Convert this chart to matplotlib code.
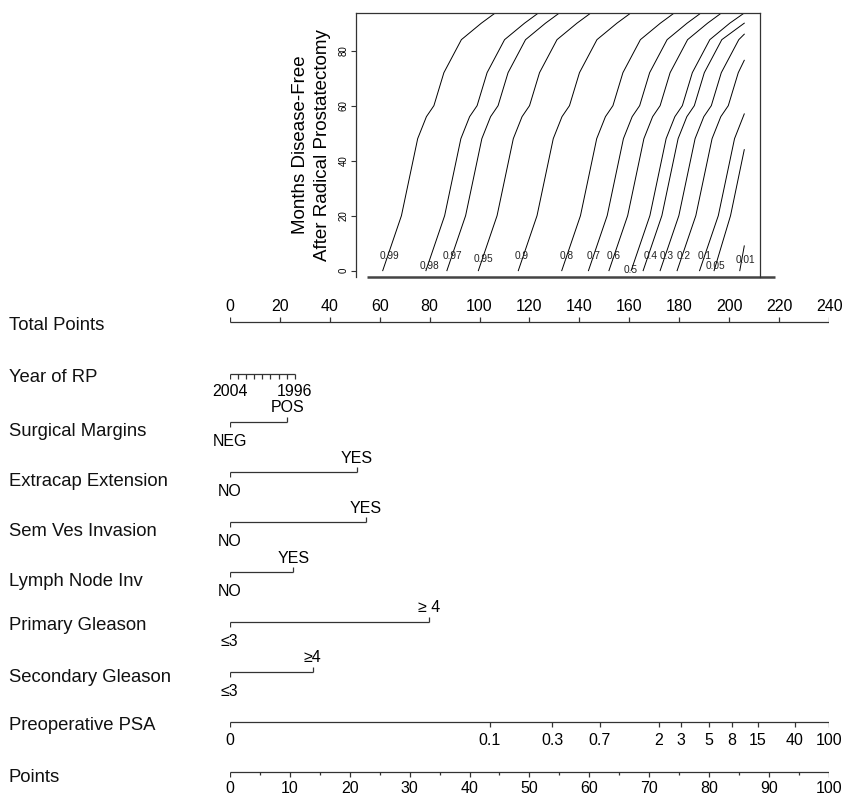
import matplotlib
matplotlib.use("Agg")
import matplotlib.pyplot as plt
import matplotlib.transforms as mtransforms

plt.rcParams['font.family'] = ['Liberation Sans', 'DejaVu Sans']

# --- survival contours: total points reached at each month, per probability
surv_labels = ['0.99', '0.98', '0.97', '0.95', '0.9', '0.8', '0.7', '0.6',
               '0.5', '0.4', '0.3', '0.2', '0.1', '0.05', '0.01']
curve_points = [
    [61.2, 68.7, 75.2, 78.7, 81.7, 85.7, 92.7, 100.7, 106.7],
    [78.5, 86.0, 92.5, 96.0, 99.0, 103.0, 110.0, 118.0, 124.0],
    [86.9, 94.4, 100.9, 104.4, 107.4, 111.4, 118.4, 126.4, 132.4],
    [99.5, 107.0, 113.5, 117.0, 120.0, 124.0, 131.0, 139.0, 145.0],
    [115.5, 123.0, 129.5, 133.0, 136.0, 140.0, 147.0, 155.0, 161.0],
    [132.9, 140.4, 146.9, 150.4, 153.4, 157.4, 164.4, 172.4, 178.4],
    [143.6, 151.1, 157.6, 161.1, 164.1, 168.1, 175.1, 183.1, 189.1],
    [151.8, 159.3, 165.8, 169.3, 172.3, 176.3, 183.3, 191.3, 197.3],
    [160.7, 168.2, 174.7, 178.2, 181.2, 185.2, 192.2, 200.2, 206.0],
    [165.5, 173.0, 179.5, 183.0, 186.0, 190.0, 197.0, 206.0],
    [172.3, 179.8, 186.3, 189.8, 192.8, 196.8, 203.8, 206.0],
    [179.1, 186.6, 193.1, 196.6, 199.6, 203.6, 206.0],
    [188.1, 195.6, 202.1, 206.0],
    [193.9, 200.5, 206.0],
    [204.2, 206.0],
]
curve_months = [
    [0, 20, 48, 56, 60, 72, 84, 90, 94],
    [0, 20, 48, 56, 60, 72, 84, 90, 94],
    [0, 20, 48, 56, 60, 72, 84, 90, 94],
    [0, 20, 48, 56, 60, 72, 84, 90, 94],
    [0, 20, 48, 56, 60, 72, 84, 90, 94],
    [0, 20, 48, 56, 60, 72, 84, 90, 94],
    [0, 20, 48, 56, 60, 72, 84, 90, 94],
    [0, 20, 48, 56, 60, 72, 84, 90, 94],
    [0, 20, 48, 56, 60, 72, 84, 90, 93.7],
    [0, 20, 48, 56, 60, 72, 84, 90],
    [0, 20, 48, 56, 60, 72, 84, 86],
    [0, 20, 48, 56, 60, 72, 76.5],
    [0, 20, 48, 57],
    [0, 20, 44],
    [0, 9],
]
label_points = [63.8, 79.8, 89.3, 101.5, 116.9, 134.9, 145.6, 153.6,
                160.3, 168.3, 175.0, 181.6, 190.3, 194.3, 206.4]
label_months = [5.5, 1.6, 5.5, 4.3, 5.5, 5.5, 5.5, 5.5,
                0.4, 5.5, 5.5, 5.5, 5.5, 1.6, 4.0]
month_ticks = [0, 20, 40, 60, 80]

# --- nomogram scales (positions on the 0-100 points scale)
total_ticks = [0, 20, 40, 60, 80, 100, 120, 140, 160, 180, 200, 220, 240]
year_values = [2004, 2003, 2002, 2001, 2000, 1999, 1998, 1997, 1996]
year_points = [0, 1.36, 2.71, 4.07, 5.42, 6.78, 8.14, 9.49, 10.85]
bin_names = ['Surgical Margins', 'Extracap Extension', 'Sem Ves Invasion',
             'Lymph Node Inv', 'Primary Gleason', 'Secondary Gleason']
bin_low = ['NEG', 'NO', 'NO', 'NO', '≤3', '≤3']
bin_high = ['POS', 'YES', 'YES', 'YES', '≥ 4', '≥4']
bin_points = [9.6, 21.2, 22.7, 10.6, 33.2, 13.8]
psa_labels = ['0', '0.1', '0.3', '0.7', '2', '3', '5', '8', '15', '40', '100']
psa_points = [0, 43.4, 53.8, 61.7, 71.6, 75.3, 80.0, 83.8, 88.1, 94.3, 100]
points_major = [0, 10, 20, 30, 40, 50, 60, 70, 80, 90, 100]
points_minor = [5, 15, 25, 35, 45, 55, 65, 75, 85, 95]

# row layout, in pixels from the top of the figure
W, H = 844, 798
row_y = {'total': 321.7, 'year': 374, 'Surgical Margins': 421.7,
         'Extracap Extension': 472.3, 'Sem Ves Invasion': 522.3,
         'Lymph Node Inv': 572.3, 'Primary Gleason': 621.7,
         'Secondary Gleason': 671.7, 'psa': 722.3, 'points': 771.7}
name_y = {'Total Points': 325, 'Year of RP': 378, 'Surgical Margins': 432,
          'Extracap Extension': 482, 'Sem Ves Invasion': 531,
          'Lymph Node Inv': 582, 'Primary Gleason': 625,
          'Secondary Gleason': 677, 'Preoperative PSA': 725, 'Points': 777}

lc = '#333333'
fs_name = 13.3
fs_tick = 11.5

fig = plt.figure(figsize=(W / 100, H / 100), dpi=100)
x0, x1 = 229.8, 829.1
ax = fig.add_axes([x0 / W, 0, (x1 - x0) / W, 1])
ax.set_xlim(0, 100)
ax.set_ylim(H, 0)
ax.axis('off')

def hline(y, p0, p1):
    ax.plot([p0, p1], [y, y], color=lc, lw=0.9, solid_capstyle='butt')

def tick(p, y, length):
    ax.plot([p, p], [y, y + length], color=lc, lw=0.9, solid_capstyle='butt')

name_trans = mtransforms.blended_transform_factory(fig.transFigure, ax.transData)
for name, y in name_y.items():
    ax.text(9 / W, y, name, transform=name_trans, ha='left', va='center',
            fontsize=fs_name, color='#111111')

# Total points
y = row_y['total']
hline(y, 0, 100)
for v in total_ticks:
    p = v * 100 / 240
    tick(p, y, -5)
    ax.text(p, y - 15, str(v), ha='center', va='center', fontsize=fs_tick)

# Year of RP
y = row_y['year']
hline(y, year_points[0], year_points[-1])
for p in year_points:
    tick(p, y, 4.5)
ax.text(year_points[0], y + 18, str(year_values[0]), ha='center', va='center', fontsize=fs_tick)
ax.text(year_points[-1], y + 18, str(year_values[-1]), ha='center', va='center', fontsize=fs_tick)

# two-level variables
for name, lo, hi, p in zip(bin_names, bin_low, bin_high, bin_points):
    y = row_y[name]
    hline(y, 0, p)
    tick(0, y, 5)
    tick(p, y, -5)
    ax.text(0, y + 19.5, lo, ha='center', va='center', fontsize=fs_tick)
    ax.text(p, y - 14, hi, ha='center', va='center', fontsize=fs_tick)

# PSA
y = row_y['psa']
hline(y, 0, 100)
for lab, p in zip(psa_labels, psa_points):
    tick(p, y, 5)
    ax.text(p, y + 18, lab, ha='center', va='center', fontsize=fs_tick)

# Points
y = row_y['points']
hline(y, 0, 100)
for v in points_major:
    tick(v, y, 5)
    ax.text(v, y + 17, str(v), ha='center', va='center', fontsize=fs_tick)
for v in points_minor:
    tick(v, y, 3)

# survival panel
top = fig.add_axes([356 / W, 1 - 276.7 / H, (760 - 356) / W, (276.7 - 13) / H])
top.set_xlim(50.5, 212.3)
top.set_ylim(-2.2, 93.7)
top.spines['bottom'].set_visible(False)
for s in ['left', 'top', 'right']:
    top.spines[s].set_color(lc)
    top.spines[s].set_linewidth(0.9)
top.set_xticks([])
top.set_yticks(month_ticks)
top.set_yticklabels([str(m) for m in month_ticks], rotation=90, va='center', fontsize=7)
top.tick_params(axis='y', length=3.5, width=0.8, color=lc, pad=2)
top.plot([55, 218.4], [-2.2, -2.2], color='#444444', lw=1.8, clip_on=False,
         solid_capstyle='butt')

for pts, months in zip(curve_points, curve_months):
    top.plot(pts, months, color='black', lw=0.7)
for lab, p, m in zip(surv_labels, label_points, label_months):
    top.text(p, m, lab, ha='center', va='center', fontsize=7.3, color='#222222')

top.set_ylabel('Months Disease-Free\nAfter Radical Prostatectomy', fontsize=13.5,
               linespacing=1.45, labelpad=5)

fig.savefig('out.png', dpi=100)
